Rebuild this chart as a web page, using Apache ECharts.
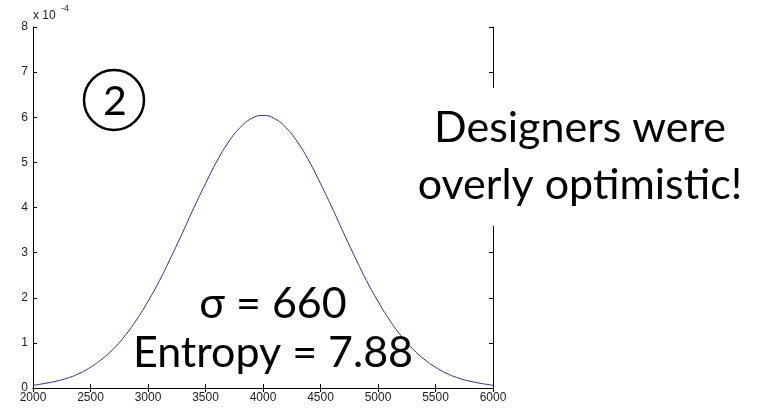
<!DOCTYPE html>
<html>
<head>
<meta charset="utf-8">
<script src="https://cdn.jsdelivr.net/npm/echarts@6/dist/echarts.min.js"></script>
<style>html,body{margin:0;padding:0;background:#fff;}#c{width:759px;height:413px;}</style>
</head>
<body>
<div id="c"></div>
<script>
// x values (hours) and density values in units of 1e-4
const xValues = [2000,2100,2200,2300,2400,2500,2600,2700,2800,2900,3000,3100,3200,3300,3400,3500,3600,3700,3800,3900,4000,
                 4100,4200,4300,4400,4500,4600,4700,4800,4900,5000,5100,5200,5300,5400,5500,5600,5700,5800,5900,6000];
const yValues = [0.06,0.10,0.15,0.22,0.32,0.46,0.64,0.87,1.16,1.51,1.92,2.38,2.90,3.44,4.00,4.53,5.03,5.45,5.77,5.97,6.04,
                 5.97,5.77,5.45,5.03,4.53,4.00,3.44,2.90,2.38,1.92,1.51,1.16,0.87,0.64,0.46,0.32,0.22,0.15,0.10,0.06];
const xTicks = [2000,2500,3000,3500,4000,4500,5000,5500,6000];
const yTicks = [0,1,2,3,4,5,6,7,8];
const exponentLabel = 'x 10';
const exponentPower = '-4';
const circledLabel = '2';
const noteLines = ['Designers were', 'overly optimistic!'];
const statLines = ['σ = 660', 'Entropy = 7.88'];

const chart = echarts.init(document.getElementById('c'), null, {renderer: 'canvas'});
const labelFont = {fontFamily: 'Liberation Sans, Arial, sans-serif', fontSize: 12, color: '#222'};
const axisLine = {show: true, lineStyle: {color: '#000', width: 1}};
const tick = {show: true, inside: true, length: 4, lineStyle: {color: '#000', width: 1}};
const bigFont = 'Lato, "Open Sans", sans-serif';

const option = {
  animation: false,
  backgroundColor: '#fff',
  grid: {left: 33, right: 266, top: 27, bottom: 25, containLabel: false},
  xAxis: [
    {type: 'value', min: xTicks[0], max: xTicks[xTicks.length-1], interval: 500, position: 'bottom',
     axisLine: axisLine, axisTick: tick, splitLine: {show: false},
     axisLabel: Object.assign({margin: 4, formatter: v => String(v)}, labelFont)},
    {type: 'value', min: xTicks[0], max: xTicks[xTicks.length-1], interval: 500, position: 'top',
     axisLine: axisLine, axisTick: tick, splitLine: {show: false}, axisLabel: {show: false}}
  ],
  yAxis: [
    {type: 'value', min: yTicks[0], max: yTicks[yTicks.length-1], interval: 1, position: 'left',
     axisLine: axisLine, axisTick: tick, splitLine: {show: false},
     axisLabel: Object.assign({margin: 5, formatter: v => String(v)}, labelFont)},
    {type: 'value', min: yTicks[0], max: yTicks[yTicks.length-1], interval: 1, position: 'right',
     axisLine: axisLine, axisTick: tick, splitLine: {show: false}, axisLabel: {show: false}}
  ],
  series: [{
    type: 'line', xAxisIndex: 0, yAxisIndex: 0, smooth: true, showSymbol: false,
    lineStyle: {color: '#2e2e86', width: 1},
    data: xValues.map((x, i) => [x, yValues[i]]),
    z: 2
  }],
  graphic: [
    {type: 'text', left: 33, top: 10, style: {text: exponentLabel, font: '12px "Liberation Sans", Arial', fill: '#222'}},
    {type: 'text', left: 61, top: 4, style: {text: exponentPower, font: '9px "Liberation Sans", Arial', fill: '#222'}},
    {type: 'circle', shape: {cx: 114, cy: 100, r: 30}, style: {fill: 'none', stroke: '#000', lineWidth: 2.5}, z: 10},
    {type: 'text', x: 115, y: 102, style: {text: circledLabel, font: '41px ' + bigFont, fill: '#000', textAlign: 'center', textVerticalAlign: 'middle'}, z: 10},
    {type: 'rect', shape: {x: 408, y: 88, width: 351, height: 138}, style: {fill: '#fff'}, z: 20},
    {type: 'text', x: 580, y: 128, style: {text: noteLines[0], font: '43px ' + bigFont, fill: '#000', textAlign: 'center', textVerticalAlign: 'middle'}, z: 21},
    {type: 'text', x: 580, y: 185, style: {text: noteLines[1], font: '43px ' + bigFont, fill: '#000', textAlign: 'center', textVerticalAlign: 'middle'}, z: 21},
    {type: 'text', x: 273, y: 304, style: {text: statLines[0], font: '43px ' + bigFont, fill: '#000', textAlign: 'center', textVerticalAlign: 'middle'}, z: 21},
    {type: 'text', x: 273, y: 353, style: {text: statLines[1], font: '43px ' + bigFont, fill: '#000', textAlign: 'center', textVerticalAlign: 'middle'}, z: 21}
  ]
};
chart.setOption(option);
</script>
</body>
</html>
